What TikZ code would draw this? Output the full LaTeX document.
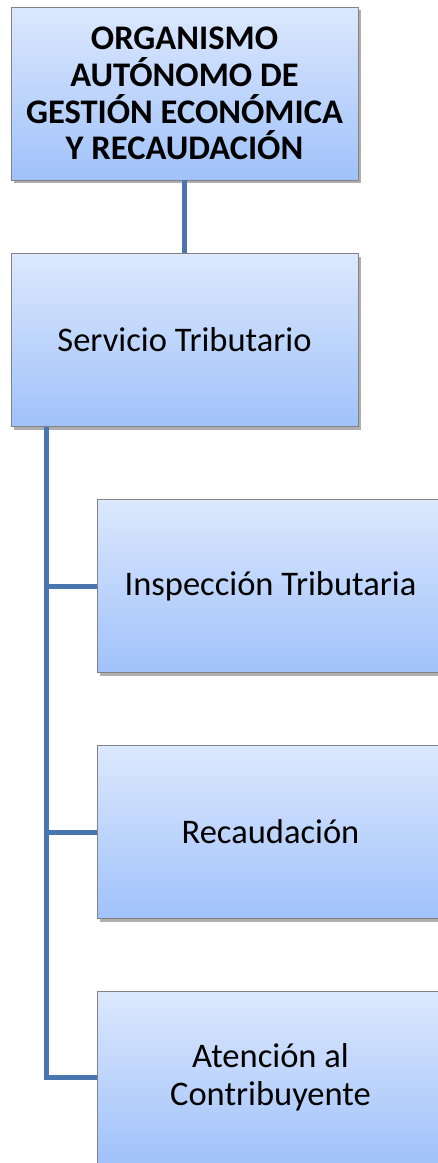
\documentclass[tikz,border=0pt]{standalone}
\usepackage{fontspec}
\setmainfont{Carlito}
\usetikzlibrary{shadows}
\definecolor{boxtop}{RGB}{220,232,253}
\definecolor{boxbot}{RGB}{160,194,250}
\definecolor{boxline}{RGB}{130,130,130}
\definecolor{conn}{RGB}{74,118,176}
\tikzset{
  orgbox/.style={draw=boxline, line width=0.9pt, top color=boxtop, bottom color=boxbot,
    minimum width=347pt, minimum height=173pt, align=center, inner sep=4pt,
    font=\fontsize{34.5}{38.5}\selectfont,
    drop shadow={shadow xshift=2.5pt, shadow yshift=-3pt, opacity=0.45, fill=black!70}},
  link/.style={draw=conn, line width=5pt}
}
\begin{document}
\begin{tikzpicture}[x=1pt,y=-1pt]
\clip (0,0) rectangle (438,1163);
\fill[white] (0,0) rectangle (438,1163);
\node[orgbox, font=\fontsize{34.5}{36.7}\selectfont\bfseries] (top) at (184.5,93.5)
  {ORGANISMO\\AUTÓNOMO DE\\GESTIÓN ECONÓMICA\\Y RECAUDACIÓN};
\node[orgbox] (serv) at (184.5,340) {Servicio Tributario};
\node[orgbox] (insp) at (270.5,586) {Inspección Tributaria};
\node[orgbox] (rec) at (270.5,832) {Recaudación};
\node[orgbox] (aten) at (270.5,1077.5) {Atención al\\Contribuyente};
\coordinate (trunk) at (46,427);
\draw[link] (top.south) -- (serv.north);
\draw[link] (trunk) |- (insp.west);
\draw[link] (trunk) |- (rec.west);
\draw[link] (trunk) |- (aten.west);
\end{tikzpicture}
\end{document}
